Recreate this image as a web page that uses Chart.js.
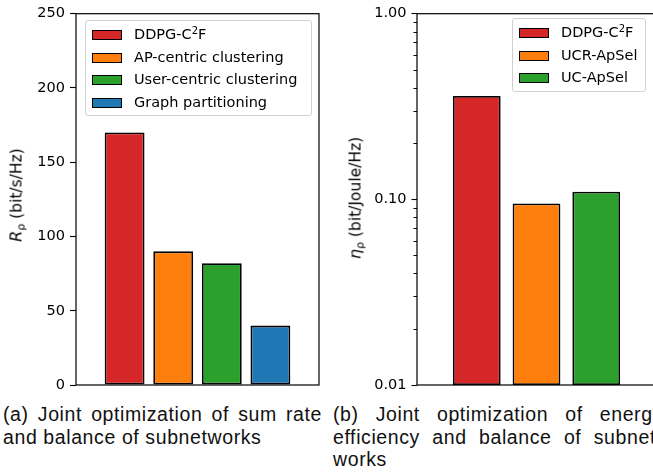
<!DOCTYPE html>
<html>
<head>
<meta charset="utf-8">
<script src="https://cdn.jsdelivr.net/npm/chart.js@4"></script>
<style>
  html, body { margin:0; padding:0; background:#fff; overflow:hidden; width:653px; height:474px; }
  #wrap { position:relative; width:653px; height:474px; overflow:hidden; }
  canvas { position:absolute; }
  .ytitle { position:absolute; font-family:"DejaVu Sans"; font-size:15.5px; color:#000; white-space:nowrap; transform:translate(-50%,-50%) rotate(-90deg); }
  .ytitle i { font-size:16px; }
  .ytitle sub { font-size:11px; vertical-align:-3px; }
  .legend { position:absolute; background:rgba(255,255,255,0.8); border:1px solid #d0d0d0; border-radius:3px; box-sizing:border-box; font-family:"DejaVu Sans"; font-size:14.5px; color:#000; }
  .legend .row { position:absolute; left:0; height:0; }
  .legend .patch { position:absolute; width:30px; height:10px; box-sizing:border-box; border:1.5px solid #000; }
  .legend .lab { position:absolute; white-space:nowrap; line-height:16px; }
  .legend .lab sup { font-size:10px; vertical-align:5px; line-height:0; }
  .cap { position:absolute; font-family:"Liberation Sans"; font-size:19.5px; color:#111; white-space:nowrap; letter-spacing:0.6px; }
  .cap div { height:22.5px; line-height:22.5px; }
  .cap .j { text-align:justify; text-align-last:justify; }
</style>
</head>
<body>
<div id="wrap">
  <canvas id="c1" style="left:0;top:0;width:330px;height:400px" width="330" height="400"></canvas>
  <canvas id="c2" style="left:330px;top:0;width:340px;height:400px" width="340" height="400"></canvas>
  <div class="ytitle" style="left:17px;top:195px"><i>R</i><sub>ρ</sub> (bit/s/Hz)</div>
  <div class="ytitle" style="left:356px;top:198px"><i>η</i><sub>ρ</sub> (bit/Joule/Hz)</div>
  <div id="leg1" class="legend" style="left:85px;top:20px;width:227px;height:96px"></div>
  <div id="leg2" class="legend" style="left:512px;top:18px;width:134px;height:74px"></div>
  <div class="cap" style="left:3px;top:403px;width:319px">
    <div class="j">(a) Joint optimization of sum rate</div>
    <div>and balance of subnetworks</div>
  </div>
  <div class="cap" style="left:333px;top:403px;width:330px">
    <div class="j">(b) Joint optimization of energy</div>
    <div class="j">efficiency and balance of subnet-</div>
    <div>works</div>
  </div>
</div>
<script>
// ---- data ----
const leftCategories = ['DDPG-C²F', 'AP-centric clustering', 'User-centric clustering', 'Graph partitioning'];
const leftValues = [170, 90, 82, 40];
const leftTicks = [0, 50, 100, 150, 200, 250];

const rightCategories = ['DDPG-C²F', 'UCR-ApSel', 'UC-ApSel'];
const rightValues = [0.36, 0.095, 0.11];
const rightTicks = [0.01, 0.1, 1];
const rightMinorTicks = [0.02,0.03,0.04,0.05,0.06,0.07,0.08,0.09,0.2,0.3,0.4,0.5,0.6,0.7,0.8,0.9];

const colors = ['#d62728', '#ff7f0e', '#2ca02c', '#1f77b4'];

// ---- helpers ----
const framePlugin = {
  id: 'frame',
  afterDatasetsDraw(chart) {
    const a = chart.chartArea, ctx = chart.ctx;
    ctx.save();
    ctx.strokeStyle = '#000';
    ctx.lineWidth = 1.2;
    ctx.strokeRect(a.left, a.top, a.right - a.left, a.bottom - a.top);
    const minors = chart.options.plugins.frame && chart.options.plugins.frame.minor;
    if (minors) {
      const ys = chart.scales.y;
      ctx.lineWidth = 1;
      minors.forEach(v => {
        const y = Math.round(ys.getPixelForValue(v)) + 0.5;
        ctx.beginPath();
        ctx.moveTo(a.left - 3.5, y);
        ctx.lineTo(a.left, y);
        ctx.stroke();
      });
    }
    ctx.restore();
  }
};

function makeDatasets(cats, vals) {
  return cats.map((c, i) => ({
    label: c,
    data: [{ x: i, y: vals[i] }],
    backgroundColor: colors[i],
    borderColor: '#000',
    borderWidth: 1.8,
    borderSkipped: false,
  }));
}

function buildLegend(el, datasets) {
  datasets.forEach((d, i) => {
    const row = document.createElement('div');
    row.className = 'row';
    const cy = 14 + i * 22.6;
    row.style.top = cy + 'px';
    const p = document.createElement('div');
    p.className = 'patch';
    p.style.left = '6px';
    p.style.top = '-5px';
    p.style.background = d.backgroundColor;
    const t = document.createElement('div');
    t.className = 'lab';
    t.style.left = '48px';
    t.style.top = '-9px';
    const parts = d.label.split('²');
    t.appendChild(document.createTextNode(parts[0]));
    if (parts.length > 1) {
      const s = document.createElement('sup');
      s.textContent = '2';
      t.appendChild(s);
      t.appendChild(document.createTextNode(parts[1]));
    }
    row.appendChild(p); row.appendChild(t);
    el.appendChild(row);
  });
}

const tickFont = { family: 'DejaVu Sans', size: 14.5 };

// ---- left chart ----
const ds1 = makeDatasets(leftCategories, leftValues);
new Chart(document.getElementById('c1'), {
  type: 'bar',
  data: { datasets: ds1 },
  options: {
    responsive: false,
    animation: false,
    events: [],
    layout: { padding: { left: 0, top: 13, right: 11, bottom: 15 } },
    datasets: { bar: { grouped: false, barPercentage: 0.82, categoryPercentage: 1 } },
    plugins: { legend: { display: false }, tooltip: { enabled: false }, frame: {} },
    scales: {
      x: {
        type: 'linear', min: -1, max: leftCategories.length, offset: false,
        ticks: { display: false, stepSize: 1 },
        grid: { display: false },
        border: { display: false },
        afterFit: s => { s.height = 0; }
      },
      y: {
        min: 0, max: 250,
        afterBuildTicks: s => { s.ticks = leftTicks.map(v => ({ value: v })); },
        ticks: { font: tickFont, color: '#000', padding: 5 },
        grid: { drawOnChartArea: false, drawTicks: true, tickLength: 6, tickColor: '#000', tickWidth: 1.1 },
        border: { display: false },
        afterFit: s => { s.width = 76; }
      }
    }
  },
  plugins: [framePlugin]
});
buildLegend(document.getElementById('leg1'), ds1);

// ---- right chart ----
const ds2 = makeDatasets(rightCategories, rightValues);
new Chart(document.getElementById('c2'), {
  type: 'bar',
  data: { datasets: ds2 },
  options: {
    responsive: false,
    animation: false,
    events: [],
    layout: { padding: { left: 0, top: 12, right: 14, bottom: 15 } },
    datasets: { bar: { grouped: false, barPercentage: 0.8, categoryPercentage: 1 } },
    plugins: { legend: { display: false }, tooltip: { enabled: false }, frame: { minor: rightMinorTicks } },
    scales: {
      x: {
        type: 'linear', min: -1, max: rightCategories.length, offset: false,
        ticks: { display: false, stepSize: 1 },
        grid: { display: false },
        border: { display: false },
        afterFit: s => { s.height = 0; }
      },
      y: {
        type: 'logarithmic', min: 0.01, max: 1,
        afterBuildTicks: s => { s.ticks = rightTicks.map(v => ({ value: v, major: true })); },
        ticks: { font: tickFont, color: '#000', padding: 5, callback: v => Number(v).toFixed(2) },
        grid: { drawOnChartArea: false, drawTicks: true, tickLength: 5.5, tickColor: '#000', tickWidth: 1.1 },
        border: { display: false },
        afterFit: s => { s.width = 87; }
      }
    }
  },
  plugins: [framePlugin]
});
buildLegend(document.getElementById('leg2'), ds2);
</script>
</body>
</html>
